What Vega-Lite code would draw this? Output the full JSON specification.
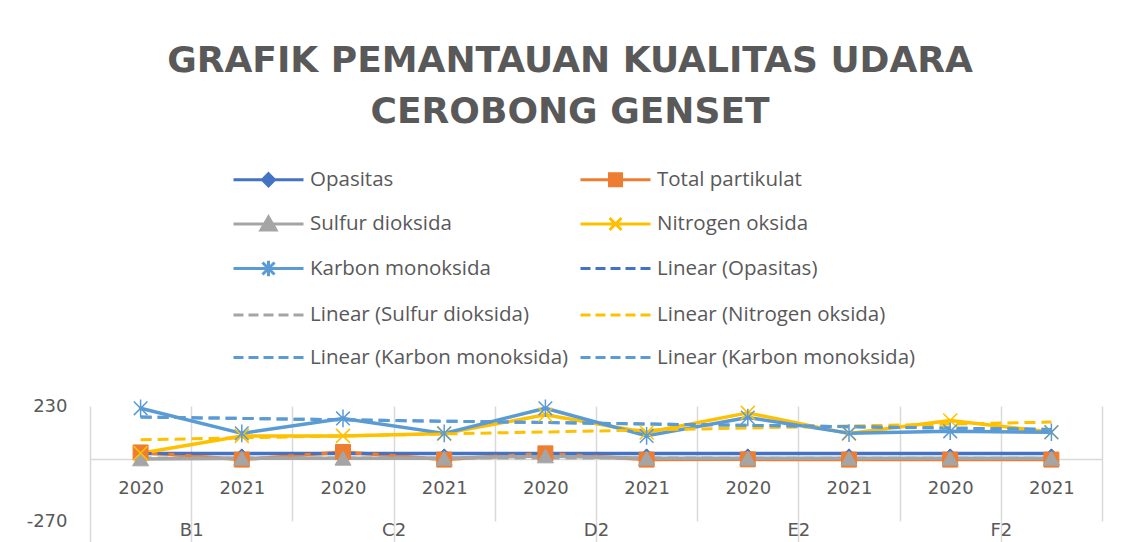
{
  "$schema": "https://vega.github.io/schema/vega-lite/v6.json",
  "width": 1012,
  "height": 115,
  "autosize": {"type": "none"},
  "padding": {"left": 90, "top": 406, "right": 24, "bottom": 21},
  "background": "white",
  "title": {
    "text": ["GRAFIK PEMANTAUAN KUALITAS UDARA", "CEROBONG GENSET"],
    "font": "DejaVu Sans",
    "fontSize": 36,
    "fontWeight": "bold",
    "color": "#595959",
    "anchor": "middle",
    "frame": "bounds",
    "lineHeight": 51,
    "offset": 33,
    "dx": 6
  },
  "config": {"view": {"stroke": null}},
  "data": {
    "values": [
      {"cat": "B1 2020", "series": "Opasitas", "value": 23},
      {"cat": "B1 2021", "series": "Opasitas", "value": 23},
      {"cat": "C2 2020", "series": "Opasitas", "value": 23},
      {"cat": "C2 2021", "series": "Opasitas", "value": 23},
      {"cat": "D2 2020", "series": "Opasitas", "value": 23},
      {"cat": "D2 2021", "series": "Opasitas", "value": 23},
      {"cat": "E2 2020", "series": "Opasitas", "value": 23},
      {"cat": "E2 2021", "series": "Opasitas", "value": 23},
      {"cat": "F2 2020", "series": "Opasitas", "value": 23},
      {"cat": "F2 2021", "series": "Opasitas", "value": 23},
      {"cat": "B1 2020", "series": "Total partikulat", "value": 28},
      {"cat": "B1 2021", "series": "Total partikulat", "value": -3},
      {"cat": "C2 2020", "series": "Total partikulat", "value": 30},
      {"cat": "C2 2021", "series": "Total partikulat", "value": -3},
      {"cat": "D2 2020", "series": "Total partikulat", "value": 24},
      {"cat": "D2 2021", "series": "Total partikulat", "value": -3},
      {"cat": "E2 2020", "series": "Total partikulat", "value": -2},
      {"cat": "E2 2021", "series": "Total partikulat", "value": -3},
      {"cat": "F2 2020", "series": "Total partikulat", "value": -3},
      {"cat": "F2 2021", "series": "Total partikulat", "value": -3},
      {"cat": "B1 2020", "series": "Sulfur dioksida", "value": 0},
      {"cat": "B1 2021", "series": "Sulfur dioksida", "value": 3},
      {"cat": "C2 2020", "series": "Sulfur dioksida", "value": 3},
      {"cat": "C2 2021", "series": "Sulfur dioksida", "value": 3},
      {"cat": "D2 2020", "series": "Sulfur dioksida", "value": 13},
      {"cat": "D2 2021", "series": "Sulfur dioksida", "value": 3},
      {"cat": "E2 2020", "series": "Sulfur dioksida", "value": 3},
      {"cat": "E2 2021", "series": "Sulfur dioksida", "value": 3},
      {"cat": "F2 2020", "series": "Sulfur dioksida", "value": 3},
      {"cat": "F2 2021", "series": "Sulfur dioksida", "value": 3},
      {"cat": "B1 2020", "series": "Nitrogen oksida", "value": 25},
      {"cat": "B1 2021", "series": "Nitrogen oksida", "value": 100},
      {"cat": "C2 2020", "series": "Nitrogen oksida", "value": 100},
      {"cat": "C2 2021", "series": "Nitrogen oksida", "value": 110},
      {"cat": "D2 2020", "series": "Nitrogen oksida", "value": 192},
      {"cat": "D2 2021", "series": "Nitrogen oksida", "value": 115},
      {"cat": "E2 2020", "series": "Nitrogen oksida", "value": 200},
      {"cat": "E2 2021", "series": "Nitrogen oksida", "value": 110},
      {"cat": "F2 2020", "series": "Nitrogen oksida", "value": 167},
      {"cat": "F2 2021", "series": "Nitrogen oksida", "value": 116},
      {"cat": "B1 2020", "series": "Karbon monoksida", "value": 220},
      {"cat": "B1 2021", "series": "Karbon monoksida", "value": 111},
      {"cat": "C2 2020", "series": "Karbon monoksida", "value": 176},
      {"cat": "C2 2021", "series": "Karbon monoksida", "value": 111},
      {"cat": "D2 2020", "series": "Karbon monoksida", "value": 220},
      {"cat": "D2 2021", "series": "Karbon monoksida", "value": 100},
      {"cat": "E2 2020", "series": "Karbon monoksida", "value": 180},
      {"cat": "E2 2021", "series": "Karbon monoksida", "value": 112},
      {"cat": "F2 2020", "series": "Karbon monoksida", "value": 120},
      {"cat": "F2 2021", "series": "Karbon monoksida", "value": 116},
      {"cat": "B1 2020", "series": "Linear (Opasitas)", "value": 23},
      {"cat": "F2 2021", "series": "Linear (Opasitas)", "value": 23},
      {"cat": "B1 2020", "series": "Linear (Sulfur dioksida)", "value": 4},
      {"cat": "F2 2021", "series": "Linear (Sulfur dioksida)", "value": 3},
      {"cat": "B1 2020", "series": "Linear (Nitrogen oksida)", "value": 83},
      {"cat": "F2 2021", "series": "Linear (Nitrogen oksida)", "value": 160},
      {"cat": "B1 2020", "series": "Linear (Karbon monoksida)", "value": 182},
      {"cat": "F2 2021", "series": "Linear (Karbon monoksida)", "value": 128},
      {"cat": "B1 2020", "series": "Linear (Karbon monoksida) ", "value": 182},
      {"cat": "F2 2021", "series": "Linear (Karbon monoksida) ", "value": 128}
    ]
  },
  "encoding": {
    "x": {
      "field": "cat", "type": "ordinal", "bandPosition": 0.5,
      "scale": {"type": "band", "paddingInner": 0, "paddingOuter": 0,
        "domain": ["B1 2020", "B1 2021", "C2 2020", "C2 2021", "D2 2020", "D2 2021", "E2 2020", "E2 2021", "F2 2020", "F2 2021"]},
      "axis": null
    },
    "y": {
      "field": "value", "type": "quantitative",
      "scale": {"domain": [-270, 230], "nice": false, "zero": false},
      "axis": {"values": [230, -270], "title": null, "domain": false, "ticks": false, "grid": false,
        "labelExpr": "'' + datum.value",
        "labelFont": "DejaVu Sans", "labelFontSize": 18, "labelColor": "#595959", "labelPadding": 23}
    }
  },
  "layer": [
    {
      "transform": [{"filter": "indexof(datum.series, 'Linear') != 0"}],
      "mark": {"type": "line", "strokeWidth": 3.5, "strokeJoin": "round", "strokeCap": "round"},
      "encoding": {
        "x": {
          "field": "cat", "type": "ordinal", "bandPosition": 0.5,
          "scale": {"type": "band", "paddingInner": 0, "paddingOuter": 0,
            "domain": ["B1 2020", "B1 2021", "C2 2020", "C2 2021", "D2 2020", "D2 2021", "E2 2020", "E2 2021", "F2 2020", "F2 2021"]},
          "axis": {"orient": "bottom", "offset": -62, "title": null, "labelExpr": "datum.value ? split(datum.value, ' ')[1] : ''",
            "labelFont": "DejaVu Sans", "labelFontSize": 18, "labelColor": "#595959", "labelPadding": 20, "labelAngle": 0,
            "labelOverlap": false, "ticks": false, "tickBand": "extent", "grid": true, "gridColor": "#D9D9D9", "gridWidth": 1.5,
            "domain": true, "domainColor": "#D9D9D9", "domainWidth": 1.5}
        },
        "color": {
          "field": "series", "type": "nominal",
          "scale": {
            "domain": ["Opasitas", "Total partikulat", "Sulfur dioksida", "Nitrogen oksida", "Karbon monoksida", "Linear (Opasitas)", "Linear (Sulfur dioksida)", "Linear (Nitrogen oksida)", "Linear (Karbon monoksida)", "Linear (Karbon monoksida) "],
            "range": ["#4472C4", "#ED7D31", "#A5A5A5", "#FFC000", "#5B9BD5", "#4472C4", "#A5A5A5", "#FFC000", "#5B9BD5", "#5B9BD5"]
          },
          "legend": {
            "orient": "none", "legendX": 142, "legendY": -242, "columns": 2, "direction": "horizontal", "title": null, "padding": 0,
            "symbolSize": 784, "labelFont": "Open Sans", "labelFontSize": 20.5, "labelColor": "#595959",
            "labelOffset": 47, "labelLimit": 500, "rowPadding": 16.5, "columnPadding": 5, "symbolStrokeWidth": 3,
            "encode": {
              "symbols": {
                "update": {
                  "shape": {"signal": "datum.value == 'Opasitas' ? 'M-1,0H4M1.5,-0.43L1.93,0L1.5,0.43L1.07,0Z' : datum.value == 'Total partikulat' ? 'M-1,0H4M1.07,-0.43H1.93V0.43H1.07Z' : datum.value == 'Sulfur dioksida' ? 'M-1,0H4M1.5,-0.5L2.04,0.43L0.96,0.43Z' : datum.value == 'Nitrogen oksida' ? 'M-1,0H4M1.07,-0.43L1.93,0.43M1.07,0.43L1.93,-0.43' : datum.value == 'Karbon monoksida' ? 'M-1,0H4M1.07,-0.43L1.93,0.43M1.07,0.43L1.93,-0.43M1.5,-0.55V0.55' : 'M-1,0H-0.286M0.071,0H0.786M1.143,0H1.857M2.214,0H2.929M3.286,0H4'"},
                  "size": {"value": 784},
                  "stroke": {"scale": "color", "field": "value"},
                  "fill": {"scale": "color", "field": "value"},
                  "strokeWidth": {"value": 3},
                  "strokeDash": {"value": []},
                  "opacity": {"value": 1}
                }
              }
            }
          }
        }
      }
    },
    {
      "transform": [{"filter": "indexof(datum.series, 'Linear') == 0"}],
      "mark": {"type": "line", "strokeWidth": 3, "strokeDash": [11, 6]},
      "encoding": {
        "x": {
          "field": "cat", "type": "ordinal", "bandPosition": 0.5,
          "scale": {"type": "band", "paddingInner": 0, "paddingOuter": 0,
            "domain": ["B1 2020", "B1 2021", "C2 2020", "C2 2021", "D2 2020", "D2 2021", "E2 2020", "E2 2021", "F2 2020", "F2 2021"]},
          "axis": {"orient": "bottom", "offset": 0, "title": null,
            "values": ["B1 2020", "C2 2020", "D2 2020", "E2 2020", "F2 2020"],
            "labelExpr": "datum.value ? split(datum.value, ' ')[0] : ''", "labelOffset": 50.6,
            "labelFont": "DejaVu Sans", "labelFontSize": 18, "labelColor": "#595959", "labelPadding": -25, "labelAngle": 0,
            "labelOverlap": false, "ticks": true, "tickBand": "extent", "tickSize": 25, "tickColor": "#D9D9D9", "tickWidth": 1.5,
            "grid": false, "domain": false}
        },
        "color": {"field": "series", "type": "nominal"}
      }
    },
    {
      "transform": [{"filter": "datum.series == 'Opasitas'"}],
      "mark": {"type": "point", "shape": "diamond", "size": 90, "filled": true, "fill": "#4472C4", "stroke": "#4472C4", "strokeWidth": 1, "opacity": 1}
    },
    {
      "transform": [{"filter": "datum.series == 'Total partikulat'"}],
      "mark": {"type": "point", "shape": "square", "size": 225, "filled": true, "fill": "#ED7D31", "stroke": "#ED7D31", "strokeWidth": 1, "opacity": 1}
    },
    {
      "transform": [{"filter": "datum.series == 'Sulfur dioksida'"}],
      "mark": {"type": "point", "shape": "triangle-up", "size": 256, "filled": true, "fill": "#A5A5A5", "stroke": "#A5A5A5", "strokeWidth": 1, "opacity": 1}
    },
    {
      "transform": [{"filter": "datum.series == 'Nitrogen oksida'"}],
      "mark": {"type": "point", "shape": "M-1,-1L1,1M-1,1L1,-1", "size": 196, "filled": false, "stroke": "#FFC000", "strokeWidth": 1.5, "opacity": 1}
    },
    {
      "transform": [{"filter": "datum.series == 'Karbon monoksida'"}],
      "mark": {"type": "point", "shape": "M-0.85,-0.85L0.85,0.85M-0.85,0.85L0.85,-0.85M0,-1.1V1.1", "size": 256, "filled": false, "stroke": "#5B9BD5", "strokeWidth": 1.5, "opacity": 1}
    }
  ],
  "resolve": {"axis": {"x": "independent"}}
}
